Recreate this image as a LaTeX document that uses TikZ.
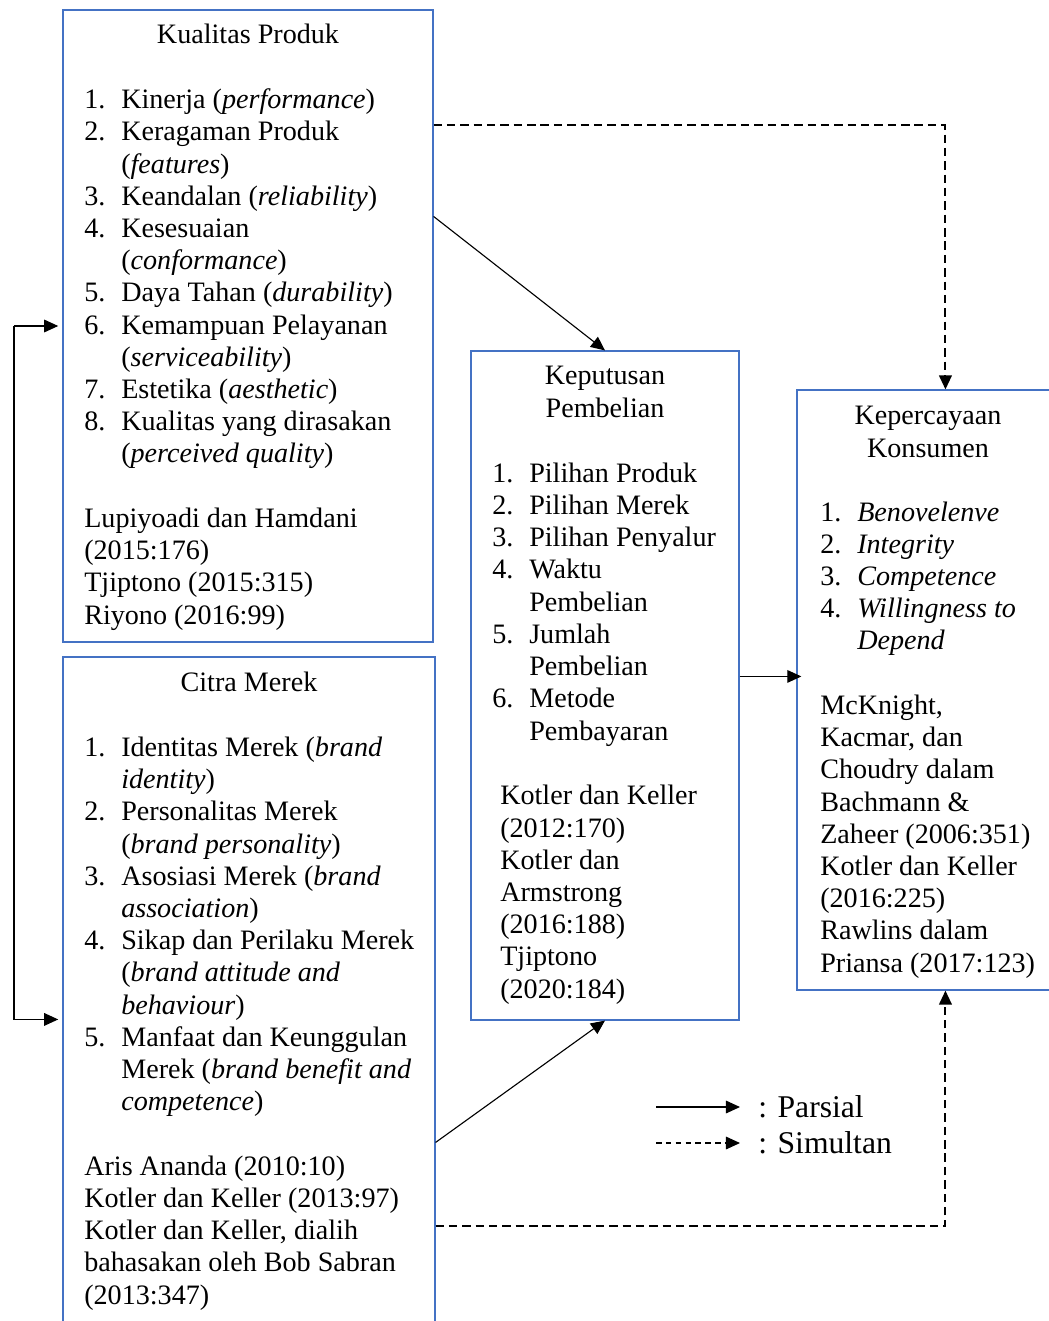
\documentclass[tikz,border=0pt]{standalone}
\usepackage{fontspec}
\setmainfont{Liberation Serif}
\usepackage{xcolor}
\usetikzlibrary{arrows.meta, calc, fit, positioning}

\definecolor{garisbiru}{RGB}{68,114,196}
\newcommand{\nr}[1]{\makebox[0.925cm][l]{#1}}
\newcommand{\ind}{\hspace*{0.925cm}}

\begin{document}
\begin{tikzpicture}[x=0.025cm, y=-0.025cm, >={Triangle[length=10pt,width=9pt]},
    kotak/.style={draw=garisbiru, line width=0.8pt, inner sep=0pt},
    isi/.style={font=\fontsize{20pt}{22.9pt}\selectfont, inner sep=0pt, align=left, anchor=base west},
    judul/.style={font=\fontsize{20pt}{22.9pt}\selectfont, inner sep=0pt, align=center, anchor=base},
    legenda/.style={font=\fontsize{22.5pt}{26pt}\selectfont, inner sep=0pt, anchor=west},
    parsial/.style={->, line width=0.8pt},
    simultan/.style={->, line width=1.4pt, dash pattern=on 6pt off 3.5pt}]
    \useasboundingbox (0,0) rectangle (1049,1321);

    % Kotak variabel
    \node[kotak, fit={(63,10) (433,642)}] (kp) {};
    \node[kotak, fit={(63,657) (435,1340)}] (cm) {};
    \node[kotak, fit={(471,351) (739,1020)}] (kpb) {};
    \node[kotak, fit={(797,390) (1070,990)}] (kk) {};

    % Kualitas Produk (X1) -- posisi di baris terakhir
    \node[judul] (kp-j) at (248,44) {Kualitas Produk};
    \node[isi] (kp-i) at (84,624) {%
        \nr{1.}Kinerja (\textit{performance})\\
        \nr{2.}Keragaman Produk\\
        \ind(\textit{features})\\
        \nr{3.}Keandalan (\textit{reliability})\\
        \nr{4.}Kesesuaian\\
        \ind(\textit{conformance})\\
        \nr{5.}Daya Tahan (\textit{durability})\\
        \nr{6.}Kemampuan Pelayanan\\
        \ind(\textit{serviceability})\\
        \nr{7.}Estetika (\textit{aesthetic})\\
        \nr{8.}Kualitas yang dirasakan\\
        \ind(\textit{perceived quality})\\
        \mbox{}\\
        Lupiyoadi dan Hamdani\\
        (2015:176)\\
        Tjiptono (2015:315)\\
        Riyono (2016:99)};

    % Citra Merek (X2)
    \node[judul] (cm-j) at (249,691) {Citra Merek};
    \node[isi] (cm-i) at (84,1304) {%
        \nr{1.}Identitas Merek (\textit{brand}\\
        \ind\textit{identity})\\
        \nr{2.}Personalitas Merek\\
        \ind(\textit{brand personality})\\
        \nr{3.}Asosiasi Merek (\textit{brand}\\
        \ind\textit{association})\\
        \nr{4.}Sikap dan Perilaku Merek\\
        \ind(\textit{brand attitude and}\\
        \ind\textit{behaviour})\\
        \nr{5.}Manfaat dan Keunggulan\\
        \ind Merek (\textit{brand benefit and}\\
        \ind\textit{competence})\\
        \mbox{}\\
        Aris Ananda (2010:10)\\
        Kotler dan Keller (2013:97)\\
        Kotler dan Keller, dialih\\
        bahasakan oleh Bob Sabran\\
        (2013:347)};

    % Keputusan Pembelian (Y)
    \node[judul] (kpb-j) at (605,417) {Keputusan\\Pembelian};
    \node[isi] (kpb-i) at (492,740) {%
        \nr{1.}Pilihan Produk\\
        \nr{2.}Pilihan Merek\\
        \nr{3.}Pilihan Penyalur\\
        \nr{4.}Waktu\\
        \ind Pembelian\\
        \nr{5.}Jumlah\\
        \ind Pembelian\\
        \nr{6.}Metode\\
        \ind Pembayaran};
    \node[isi] (kpb-r) at (500,998) {%
        Kotler dan Keller\\
        (2012:170)\\
        Kotler dan\\
        Armstrong\\
        (2016:188)\\
        Tjiptono\\
        (2020:184)};

    % Kepercayaan Konsumen (Z)
    \node[judul] (kk-j) at (928,457) {Kepercayaan\\Konsumen};
    \node[isi] (kk-i) at (820,972) {%
        \nr{1.}\textit{Benovelenve}\\
        \nr{2.}\textit{Integrity}\\
        \nr{3.}\textit{Competence}\\
        \nr{4.}\textit{Willingness to}\\
        \ind\textit{Depend}\\
        \mbox{}\\
        McKnight,\\
        Kacmar, dan\\
        Choudry dalam\\
        Bachmann \&\\
        Zaheer (2006:351)\\
        Kotler dan Keller\\
        (2016:225)\\
        Rawlins dalam\\
        Priansa (2017:123)};

    % Hubungan parsial
    \coordinate (kiri) at (14,326);
    \draw[parsial, shorten >=3pt] (kiri) -- (kp.west |- kiri);
    \draw[parsial, shorten >=3pt] (kiri) |- ($(cm.north west)+(0,363)$);
    \draw[parsial] ($(kp.north east)+(0,207)$) -- (kpb.north);
    \draw[parsial] ($(cm.north east)+(0,486)$) -- (kpb.south);
    \draw[parsial, shorten >=-3.5pt] ($(kpb.north east)+(0,326)$) coordinate (t3) -- (kk.west |- t3);

    % Hubungan simultan
    \draw[simultan] ($(kp.north east)+(0,116)$) -| ($(kk.north west)+(149,0)$);
    \draw[simultan] ($(cm.north east)+(0,570)$) -| ($(kk.south west)+(149,0)$);

    % Keterangan
    \coordinate (l1a) at (656,1107);
    \coordinate (l1b) at (740,1107);
    \coordinate (l2a) at (656,1143);
    \coordinate (l2b) at (740,1143);
    \draw[parsial] (l1a) -- (l1b);
    \draw[->, line width=0.8pt, dash pattern=on 4pt off 3pt] (l2a) -- (l2b);
    \node[legenda, right=0.45cm of l1b] (lg1) {: Parsial};
    \node[legenda, right=0.45cm of l2b] (lg2) {: Simultan};
\end{tikzpicture}
\end{document}
